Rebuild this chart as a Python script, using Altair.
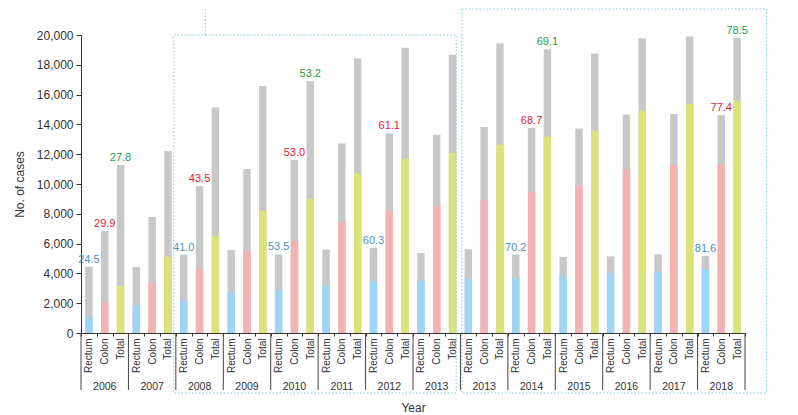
import altair as alt
import pandas as pd

years = ["2006", "2007", "2008", "2009", "2010", "2011", "2012", "2013",
         "2013", "2014", "2015", "2016", "2017", "2018"]
types = ["Rectum", "Colon", "Total"]

rectum_cases = [4450, 4430, 5255, 5568, 5277, 5612, 5702, 5366, 5612, 5255, 5098, 5143, 5277, 5170]
rectum_part = [1110, 1860, 2170, 2750, 2870, 3220, 3460, 3490, 3710, 3720, 3820, 4050, 4110, 4280]
colon_cases = [6842, 7790, 9861, 11001, 11605, 12723, 13394, 13304, 13818, 13751, 13707, 14646, 14691, 14623]
colon_part = [2080, 3376, 4310, 5523, 6160, 7468, 8184, 8519, 8922, 9440, 9861, 10979, 11269, 11316]
total_cases = [11270, 12209, 15140, 16569, 16904, 18425, 19140, 18671, 19453, 19051, 18760, 19789, 19900, 19811]
total_part = [3170, 5120, 6484, 8184, 9000, 10710, 11694, 12097, 12633, 13167, 13573, 14936, 15361, 15580]

rectum_labels = ["24.5", "", "41.0", "", "53.5", "", "60.3", "", "", "70.2", "", "", "", "81.6"]
colon_labels = ["29.9", "", "43.5", "", "53.0", "", "61.1", "", "", "68.7", "", "", "", "77.4"]
total_labels = ["27.8", "", "", "", "53.2", "", "", "", "", "69.1", "", "", "", "78.5"]

bar_colors = {"Rectum": "#9fd5f4", "Colon": "#f5b2b2", "Total": "#d9e37a"}
text_colors = {"Rectum": "#4a90c9", "Colon": "#e2203c", "Total": "#1f9a52"}

# dotted annotation boxes, in bar units (0..42) and y data units
box_left = [5.87, 24.09]
box_right = [23.73, 43.36]
box_top = [20000, 21740]

rows = []
for g, yr in enumerate(years):
    series = [(rectum_cases, rectum_part, rectum_labels),
              (colon_cases, colon_part, colon_labels),
              (total_cases, total_part, total_labels)]
    for t, (cs, ps, ls) in zip(types, series):
        rows.append({"key": f"{g:02d}|{t}", "type": t, "cases": cs[g], "part": ps[g],
                     "label": ls[g], "fill": bar_colors[t], "tcolor": text_colors[t]})
df = pd.DataFrame(rows)
keys = list(df["key"])

W = 664
H = 298
font = "Liberation Sans"

x_enc = alt.X("key:N", sort=keys,
              scale=alt.Scale(paddingInner=0, paddingOuter=0),
              axis=alt.Axis(title="Year", labelExpr="split(datum.label,'|')[1]",
                            labelAngle=-90, tickBand="extent", tickSize=3,
                            labelPadding=2, labelFontSize=10, labelColor="#333",
                            domainColor="#333", tickColor="#333",
                            titleFontSize=12, titleFontWeight="normal",
                            titleColor="#333", titlePadding=30))


def y_enc(field):
    return alt.Y(f"{field}:Q", scale=alt.Scale(domain=[0, 20000], nice=False),
                 axis=alt.Axis(title="No. of cases", values=list(range(0, 20001, 2000)),
                               format=",.0f", grid=False, tickSize=5, labelPadding=3,
                               labelFontSize=12, labelColor="#333", domainColor="#333",
                               tickColor="#333", titleFontSize=12, titleFontWeight="normal",
                               titleColor="#333", titlePadding=10))


base = alt.Chart(df)
gray = base.mark_bar(color="#c8c8c8", width={"band": 0.47}).encode(x=x_enc, y=y_enc("cases"))
colored = base.mark_bar(width={"band": 0.47}).encode(
    x=x_enc, y=y_enc("part"), fill=alt.Fill("fill:N", scale=None))
labels = base.mark_text(baseline="bottom", dy=-2, fontSize=11, font=font).encode(
    x=x_enc, y=y_enc("cases"), text="label:N", color=alt.Color("tcolor:N", scale=None))

bars = alt.layer(gray, colored, labels)

xq = alt.Scale(domain=[0, 42], nice=False, zero=False)

sep_df = pd.DataFrame({"pos": [3 * g for g in range(len(years) + 1)]})
seps = alt.Chart(sep_df).mark_rule(color="#444", strokeWidth=1, clip=False).encode(
    x=alt.X("pos:Q", scale=xq, axis=None), y=alt.value(H), y2=alt.value(H + 57))

yr_df = pd.DataFrame({"pos": [3 * g + 1.5 for g in range(len(years))], "year": years})
yr_text = alt.Chart(yr_df).mark_text(fontSize=10.5, font=font, color="#333",
                                     baseline="middle", clip=False).encode(
    x=alt.X("pos:Q", scale=xq, axis=None), y=alt.value(H + 54), text="year:N")

box_df = pd.DataFrame({"x": box_left, "x2": box_right, "top": box_top})
boxes = alt.Chart(box_df).mark_rect(fill="transparent", stroke="#7cc8d2", strokeWidth=1,
                                    strokeDash=[1.5, 2], clip=False).encode(
    x=alt.X("x:Q", scale=xq, axis=None), x2="x2:Q", y=y_enc("top"), y2=alt.value(H + 60))

stray_df = pd.DataFrame({"pos": [7.86], "top": [21740], "bottom": [20000]})
stray = alt.Chart(stray_df).mark_rule(stroke="#7cc8d2", strokeWidth=1, strokeDash=[1.5, 2],
                                      clip=False).encode(
    x=alt.X("pos:Q", scale=xq, axis=None), y=y_enc("top"), y2="bottom:Q")

annots = alt.layer(seps, yr_text, boxes, stray)

chart = alt.layer(bars, annots).resolve_scale(x="independent").properties(
    width=W, height=H,
    autosize=alt.AutoSizeParams(type="none"),
    padding={"left": 73, "top": 27, "right": 40, "bottom": 86},
).configure(font=font).configure_view(stroke=None)

chart.save("out.html", embed_options={"renderer": "svg", "actions": False})
